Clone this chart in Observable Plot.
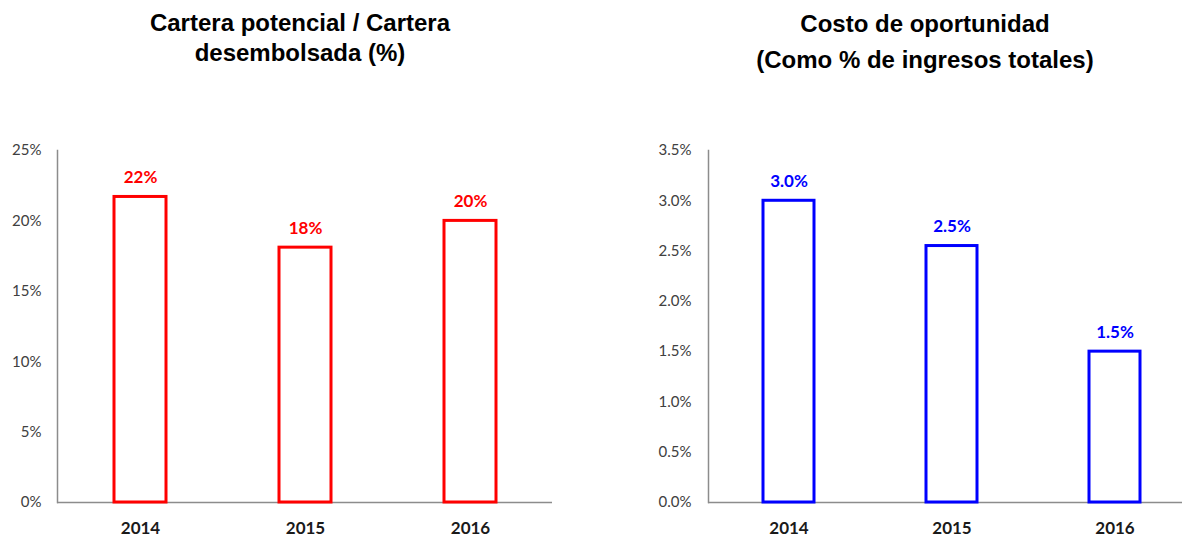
<!DOCTYPE html>
<html>
<head>
<meta charset="utf-8">
<script src="https://cdn.jsdelivr.net/npm/d3@7"></script>
<script src="https://cdn.jsdelivr.net/npm/@observablehq/plot@0.6"></script>
<style>
  html, body { margin: 0; padding: 0; background: #fff; width: 1182px; height: 537px; overflow: hidden; position: relative; }
  .title { position: absolute; font-family: "Liberation Sans", Arial, sans-serif; font-weight: bold; font-size: 24px; color: #000; text-align: center; white-space: nowrap; }
  .panel { position: absolute; }
</style>
</head>
<body>
<div class="title" id="t1" style="left:100px; top:8px; width:400px; line-height:30px;"></div>
<div class="title" id="t2" style="left:725px; top:6px; width:400px; line-height:35.5px;"></div>
<div class="panel" id="p1" style="left:0px; top:130px;"></div>
<div class="panel" id="p2" style="left:600px; top:130px;"></div>
<script>
const years = ["2014", "2015", "2016"];
const carteraValues = [21.7, 18.1, 20.0];
const carteraLabels = ["22%", "18%", "20%"];
const costoValues = [3.0, 2.55, 1.5];
const costoLabels = ["3.0%", "2.5%", "1.5%"];
const carteraTicks = [0, 5, 10, 15, 20, 25];
const costoTicks = [0, 0.5, 1.0, 1.5, 2.0, 2.5, 3.0, 3.5];
const title1 = ["Cartera potencial / Cartera", "desembolsada (%)"];
const title2 = ["Costo de oportunidad", "(Como % de ingresos totales)"];

document.getElementById("t1").innerHTML = title1.join("<br>");
document.getElementById("t2").innerHTML = title2.join("<br>");

const carteraData = years.map((y, i) => ({year: y, value: carteraValues[i], label: carteraLabels[i]}));
const costoData = years.map((y, i) => ({year: y, value: costoValues[i], label: costoLabels[i]}));

const c1 = Plot.plot({
  width: 570, height: 407,
  marginLeft: 57, marginRight: 18, marginTop: 20, marginBottom: 35,
  style: {fontFamily: "Lato, sans-serif", background: "transparent", overflow: "visible"},
  x: {domain: years, paddingInner: 0.685, paddingOuter: 0.3425, label: null},
  y: {domain: [0, 25], label: null},
  marks: [
    Plot.frame({anchor: "left", stroke: "#8c8c8c", strokeWidth: 1.5}),
    Plot.ruleY([0], {stroke: "#8c8c8c", strokeWidth: 1.5}),
    Plot.axisY({ticks: carteraTicks, tickFormat: d => d + "%", tickSize: 0, tickPadding: 16, fontSize: 15, fill: "#404040", label: null}),
    Plot.axisX({tickSize: 0, tickPadding: 19, fontSize: 17, fontWeight: "bold", fill: "#1a1a1a", label: null}),
    Plot.barY(carteraData, {x: "year", y: "value", fill: "white", stroke: "#ff0000", strokeWidth: 3}),
    Plot.text(carteraData, {x: "year", y: "value", text: "label", dy: -19, fill: "#ff0000", fontSize: 17, fontWeight: "bold"})
  ]
});
document.getElementById("p1").appendChild(c1);

const c2 = Plot.plot({
  width: 582, height: 407,
  marginLeft: 108, marginRight: 0, marginTop: 20, marginBottom: 35,
  style: {fontFamily: "Lato, sans-serif", background: "transparent", overflow: "visible"},
  x: {domain: years, range: [107, 596], paddingInner: 0.69, paddingOuter: 0.345, label: null},
  y: {domain: [0, 3.5], label: null},
  marks: [
    Plot.frame({anchor: "left", stroke: "#8c8c8c", strokeWidth: 1.5}),
    Plot.ruleY([0], {stroke: "#8c8c8c", strokeWidth: 1.5}),
    Plot.axisY({ticks: costoTicks, tickFormat: d => d.toFixed(1) + "%", tickSize: 0, tickPadding: 17, fontSize: 15, fill: "#404040", label: null}),
    Plot.axisX({tickSize: 0, tickPadding: 19, fontSize: 17, fontWeight: "bold", fill: "#1a1a1a", label: null}),
    Plot.barY(costoData, {x: "year", y: "value", fill: "white", stroke: "#0000ff", strokeWidth: 3}),
    Plot.text(costoData, {x: "year", y: "value", text: "label", dy: -19, fill: "#0000ff", fontSize: 17, fontWeight: "bold"})
  ]
});
document.getElementById("p2").appendChild(c2);
</script>
</body>
</html>
